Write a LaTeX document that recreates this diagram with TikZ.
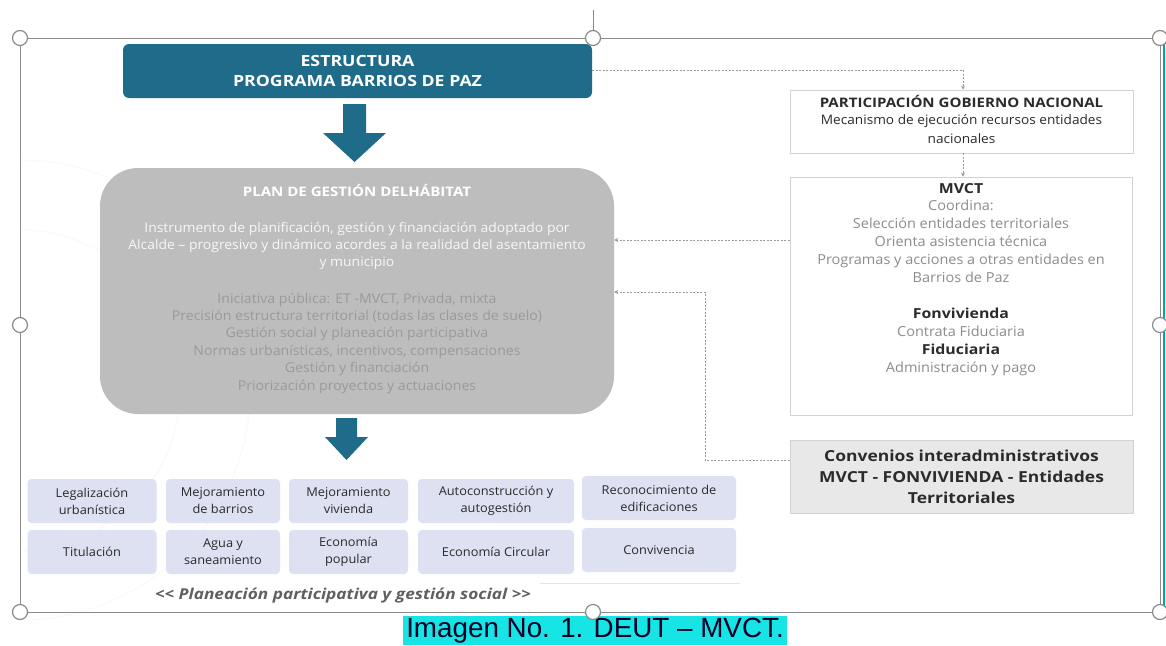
\documentclass[tikz,border=0pt]{standalone}
\usepackage{fontspec}
\setmainfont{Open Sans}[FakeStretch=1.05,BoldFeatures={FakeStretch=1.15},BoldItalicFeatures={FakeStretch=1.15}]
\newfontfamily\capfont{Liberation Sans}
\usetikzlibrary{arrows.meta}
\definecolor{teal1}{HTML}{1F6B8A}
\definecolor{plangray}{HTML}{BDBDBD}
\definecolor{plantext}{HTML}{9A9A9A}
\definecolor{bluebox}{HTML}{DDE1F1}
\definecolor{boxborder}{HTML}{D2D2D2}
\definecolor{graytext}{HTML}{8C8C8C}
\definecolor{darktext}{HTML}{2B2B2B}
\definecolor{framegray}{HTML}{8A8A8A}
\definecolor{capcyan}{HTML}{17E5E5}
\definecolor{dashgray}{HTML}{9A9A9A}
\tikzset{
  handle/.style={circle,draw=framegray,line width=1.2pt,fill=white,minimum size=15pt,inner sep=0pt},
  smallbox/.style={rounded corners=4pt,fill=bluebox,draw=none,align=center,text=darktext,font=\fontsize{12.2}{17}\selectfont},
  rbox/.style={draw=boxborder,line width=0.8pt,fill=white,align=center},
  conn/.style={draw=dashgray,dashed,dash pattern=on 2pt off 1.5pt,line width=0.7pt},
  tip/.style={-{Stealth[length=4pt,width=4pt]}},
  bigarrow/.style={fill=teal1,draw=none}
}
\begin{document}
\begin{tikzpicture}[x=1pt,y=-1pt]
\useasboundingbox (0,0) rectangle (1166,645);
\fill[white] (0,0) rectangle (1166,645);
% faint background arcs
\draw[gray!5,line width=1pt] (20,160) arc[start angle=90,end angle=-90,x radius=230,y radius=-230];
\draw[gray!5,line width=1pt] (20,230) arc[start angle=90,end angle=-90,x radius=160,y radius=-160];
% frame
\draw[framegray,line width=1pt] (20,38) rectangle (1160,612);
\draw[framegray,line width=1pt] (593,10) -- (593,38);
\draw[teal!70!cyan,line width=1.5pt] (1164,38) -- (1164,612);
% caption
\fill[capcyan] (403,616) rectangle (787,645);
\node[font=\capfont\fontsize{27.8}{29}\selectfont,text=black!85!blue,anchor=center,inner sep=0pt] (cap) at (595,631) {Imagen No. 1. DEUT – MVCT.};
% top box
\node[rounded corners=6pt,fill=teal1,minimum width=469pt,minimum height=54pt,align=center,text=white,font=\bfseries\fontsize{15.4}{20}\selectfont] (top) at (357.5,71) {ESTRUCTURA\\PROGRAMA BARRIOS DE PAZ};
% arrow 1
\fill[bigarrow] (343,104) -- (366,104) -- (366,133) -- (386,133) -- (354.5,162) -- (323,133) -- (343,133) -- cycle;
% plan box
\node[rounded corners=38pt,fill=plangray,minimum width=514pt,minimum height=246pt] (plan) at (357,291) {};
\node[text=white,font=\bfseries\fontsize{13.1}{14}\selectfont] (plant) at (357,190) {PLAN DE GESTIÓN DELHÁBITAT};
\node[text=white!94!gray,align=center,font=\fontsize{13.25}{17}\selectfont] (pland) at (357,246) {Instrumento de planificación, gestión y financiación adoptado por\\Alcalde -- progresivo y dinámico acordes a la realidad del asentamiento\\y municipio};
\node[text=plantext,align=center,font=\fontsize{13.45}{17.4}\selectfont] (planl) at (357,343) {Iniciativa pública: ET -MVCT, Privada, mixta\\Precisión estructura territorial (todas las clases de suelo)\\Gestión social y planeación participativa\\Normas urbanísticas, incentivos, compensaciones\\Gestión y financiación\\Priorización proyectos y actuaciones};
% arrow 2
\fill[bigarrow] (336,418) -- (357,418) -- (357,437) -- (368,437) -- (346.5,460) -- (325,437) -- (336,437) -- cycle;
% right side boxes
\node[rbox,minimum width=343pt,minimum height=63pt] (part) at (961.5,121.5) {};
\node[text=darktext,align=center,font=\fontsize{13.1}{18}\selectfont] (partt) at (961.5,119.5) {\textbf{PARTICIPACIÓN GOBIERNO NACIONAL}\\[-1pt]\fontsize{13}{18}\selectfont Mecanismo de ejecución recursos entidades\\[1pt]\fontsize{13}{18}\selectfont nacionales};
\node[rbox,minimum width=342pt,minimum height=238pt] (mvct) at (961,296) {};
\node[text=graytext,align=center,font=\fontsize{13.8}{17.9}\selectfont,anchor=north] (mvctt) at (961,179.5) {\textcolor{darktext}{\textbf{MVCT}}\\Coordina:\\Selección entidades territoriales\\Orienta asistencia técnica\\Programas y acciones a otras entidades en\\Barrios de Paz\\[17.9pt]\textcolor{darktext}{\textbf{Fonvivienda}}\\Contrata Fiduciaria\\\textcolor{darktext}{\textbf{Fiduciaria}}\\Administración y pago};
\node[draw=boxborder,line width=0.8pt,fill=gray!18,minimum width=343pt,minimum height=73pt,align=center,text=darktext,font=\bfseries\fontsize{15.2}{21}\selectfont] (conv) at (961.5,476.5) {Convenios interadministrativos\\MVCT - FONVIVIENDA - Entidades\\Territoriales};
% connectors
\coordinate (c1) at (963,70);
\coordinate (c2) at (705,292);
\coordinate (c3) at (705,460);
\path[conn,tip] (top.east |- c1) -- (c1) -- (part.north -| c1);
\path[conn,tip] (part.south -| c1) -- (mvct.north -| c1);
\path[conn,tip] (mvct.west |- 0,240) -- (plan.east |- 0,240);
\path[conn,tip] (conv.west |- c3) -- (c3) -- (c2) -- (plan.east |- c2);
% bottom boxes
\node[smallbox,minimum width=129pt,minimum height=44pt] (b1) at (92,501) {Legalización\\urbanística};
\node[smallbox,minimum width=114pt,minimum height=44pt] (b2) at (223,501) {Mejoramiento\\de barrios};
\node[smallbox,minimum width=119pt,minimum height=44pt] (b3) at (348.5,501) {Mejoramiento\\vivienda};
\node[smallbox,minimum width=156pt,minimum height=44pt] (b4) at (496,501) {Autoconstrucción y\\autogestión};
\node[smallbox,minimum width=154pt,minimum height=44pt] (b5) at (659,498) {Reconocimiento de\\edificaciones};
\node[smallbox,minimum width=129pt,minimum height=44pt] (b6) at (92,552) {Titulación};
\node[smallbox,minimum width=114pt,minimum height=44pt] (b7) at (223,552) {Agua y\\saneamiento};
\node[smallbox,minimum width=119pt,minimum height=44pt] (b8) at (348.5,552) {Economía\\popular};
\node[smallbox,minimum width=156pt,minimum height=44pt] (b9) at (496,552) {Economía Circular};
\node[smallbox,minimum width=154pt,minimum height=44pt] (b10) at (659,550) {Convivencia};
\draw[gray!20,line width=0.6pt] (540,583) -- (740,583);
\node[text=gray!75!black,font=\bfseries\itshape\fontsize{15}{17}\selectfont] (foot) at (343,596) {{<}{<} Planeación participativa y gestión social {>}{>}};
% handles
\node[handle] (h1) at (20,38) {};
\node[handle] (h2) at (593,38) {};
\node[handle] (h3) at (1160,38) {};
\node[handle] (h4) at (20,325) {};
\node[handle] (h5) at (1160,325) {};
\node[handle] (h6) at (20,612) {};
\node[handle] (h7) at (593,612) {};
\node[handle] (h8) at (1160,612) {};
\end{tikzpicture}
\end{document}
